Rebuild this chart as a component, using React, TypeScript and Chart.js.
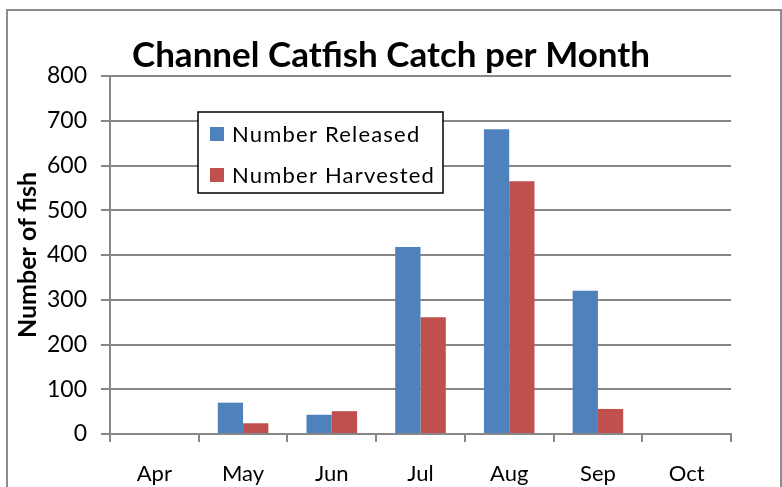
import React, { useEffect, useRef } from "react";
import { Chart, registerables } from "chart.js";

Chart.register(...registerables);

const months = ["Apr", "May", "Jun", "Jul", "Aug", "Sep", "Oct"];
const released = [0, 70, 43, 418, 681, 320, 0];
const harvested = [0, 24, 51, 261, 565, 56, 0];
const yTicks = [0, 100, 200, 300, 400, 500, 600, 700, 800];

const GRID = "#878787";
const FONT = "Lato, 'Open Sans', sans-serif";

const framePlugin = {
  id: "frame",
  beforeDraw(chart: any) {
    const ctx = chart.ctx;
    ctx.save();
    ctx.fillStyle = "#ffffff";
    ctx.fillRect(0, 0, chart.width, chart.height);
    ctx.strokeStyle = "#8c8c8c";
    ctx.lineWidth = 2;
    ctx.strokeRect(7, 10, chart.width - 8, chart.height + 20);
    ctx.restore();
  },
};

const legendPlugin = {
  id: "innerLegend",
  afterDraw(chart: any) {
    const ctx = chart.ctx;
    const a = chart.chartArea;
    const x = a.left + 88;
    const y = a.top + 36;
    const w = 245;
    const h = 81;
    ctx.save();
    ctx.fillStyle = "#ffffff";
    ctx.fillRect(x, y, w, h);
    ctx.strokeStyle = "#000000";
    ctx.lineWidth = 1.5;
    ctx.strokeRect(x, y, w, h);
    ctx.font = `22px ${FONT}`;
    try {
      (ctx as any).letterSpacing = "1.2px";
    } catch (e) {}
    ctx.textBaseline = "middle";
    chart.data.datasets.forEach((ds: any, i: number) => {
      const cy = y + 22 + i * 41;
      ctx.fillStyle = ds.backgroundColor;
      ctx.fillRect(x + 12, cy - 7, 14, 14);
      ctx.fillStyle = "#000000";
      ctx.fillText(ds.label, x + 34, cy + 1);
    });
    ctx.restore();
  },
};

export default function App() {
  const ref = useRef<HTMLCanvasElement | null>(null);
  useEffect(() => {
    document.body.style.margin = "0";
    const chart = new Chart(ref.current as HTMLCanvasElement, {
      type: "bar",
      data: {
        labels: months,
        datasets: [
          { label: "Number Released", data: released, backgroundColor: "#4F81BD" },
          { label: "Number Harvested", data: harvested, backgroundColor: "#C0504D" },
        ],
      },
      plugins: [framePlugin, legendPlugin],
      options: {
        animation: false,
        responsive: false,
        layout: { padding: 0 },
        datasets: { bar: { categoryPercentage: 0.57, barPercentage: 1 } },
        plugins: {
          legend: { display: false },
          tooltip: { enabled: false },
          title: {
            display: true,
            text: "Channel Catfish Catch per Month",
            color: "#000",
            font: { family: FONT, size: 35, weight: "bold", lineHeight: 1.1 },
            padding: { top: 36.75, bottom: 0.75 },
          },
        },
        scales: {
          x: {
            grid: {
              display: true,
              offset: true,
              drawOnChartArea: false,
              drawTicks: true,
              tickLength: 8,
              color: GRID,
              lineWidth: 2,
            },
            border: { display: true, color: GRID, width: 2 },
            ticks: { color: "#000", padding: 19, font: { family: FONT, size: 22 } },
            afterFit(scale: any) {
              scale.height = 53;
              scale.paddingLeft = 0;
              scale.paddingRight = 51;
            },
          },
          y: {
            min: 0,
            max: 800,
            afterBuildTicks(scale: any) {
              scale.ticks = yTicks.map((v) => ({ value: v }));
            },
            grid: { color: GRID, lineWidth: 2, tickLength: 9, drawTicks: true },
            border: { display: true, color: GRID, width: 2 },
            ticks: { color: "#000", padding: 14, font: { family: FONT, size: 23 } },
            title: {
              display: true,
              text: "Number of fish",
              color: "#000",
              font: { family: FONT, size: 25, weight: "bold", lineHeight: 1.2 },
              padding: { top: 13, bottom: 0 },
            },
            afterFit(scale: any) {
              scale.width = 110;
            },
          },
        },
      } as any,
    });
    return () => chart.destroy();
  }, []);
  return (
    <div style={{ width: 782, height: 487 }}>
      <canvas ref={ref} width={782} height={487} style={{ display: "block" }} />
    </div>
  );
}
